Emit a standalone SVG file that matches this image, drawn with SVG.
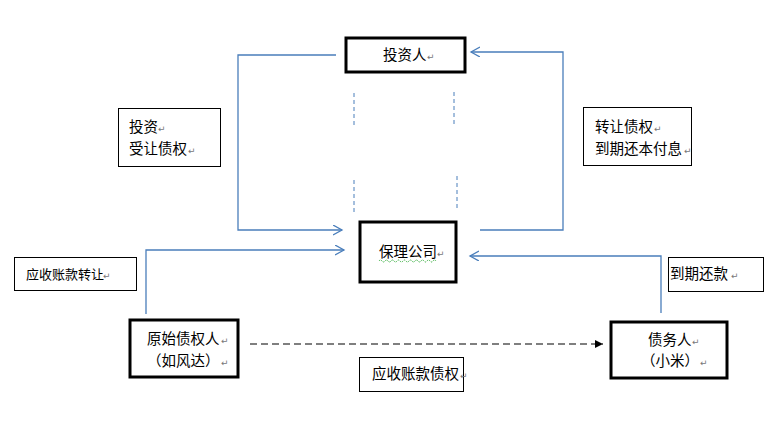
<svg xmlns="http://www.w3.org/2000/svg" width="776" height="430" viewBox="0 0 776 430">
<style>
.node{fill:#fff;stroke:#000;stroke-width:3}
.lbl{fill:#fff;stroke:#000;stroke-width:1}
.t{font-family:"Noto Sans CJK SC","Liberation Sans",sans-serif;font-size:14.5px;fill:#000}
.ts{font-family:"Noto Sans CJK SC","Liberation Sans",sans-serif;font-size:13px;fill:#000}
.pm{font-family:"DejaVu Sans",sans-serif;font-size:9px;fill:#777}
.conn{fill:none;stroke:#4a7ebb;stroke-width:1.3}
.dash{fill:none;stroke:#4a7ebb;stroke-width:1;stroke-dasharray:4,3}
.blk{fill:none;stroke:#000;stroke-width:1.2;stroke-dasharray:7,4}
</style>
<defs>
<marker id="open" markerUnits="userSpaceOnUse" markerWidth="12" markerHeight="12" refX="9" refY="5" orient="auto">
<path d="M0,0 L9,5 L0,10" fill="none" stroke="#4a7ebb" stroke-width="1.3"/>
</marker>
<marker id="solid" markerUnits="userSpaceOnUse" markerWidth="10" markerHeight="10" refX="8" refY="4" orient="auto">
<path d="M0,0 L8,4 L0,8 Z" fill="#000"/>
</marker>
</defs>
<rect width="776" height="430" fill="#fff"/>

<g id="connectors">
<polyline class="conn" points="336,55 238,55 238,230 342,230" marker-end="url(#open)"/>
<polyline class="conn" points="480,230 563,230 563,52 471,52" marker-end="url(#open)"/>
<polyline class="conn" points="146,314 146,250 344,250" marker-end="url(#open)"/>
<polyline class="conn" points="661,313 661,256 470,256" marker-end="url(#open)"/>
<line class="blk" x1="250" y1="344" x2="603" y2="344" marker-end="url(#solid)"/>
<line class="dash" x1="354" y1="93" x2="354" y2="127"/>
<line class="dash" x1="354" y1="180" x2="354" y2="213"/>
<line class="dash" x1="454" y1="92" x2="454" y2="125"/>
<line class="dash" x1="457" y1="176" x2="457" y2="210"/>
</g>

<g id="investor">
<rect class="node" x="346" y="38" width="119" height="34"/>
<text class="t" x="383" y="60">投资人</text><text class="pm" x="427" y="60">↵</text>
</g>

<g id="factoring">
<rect class="node" x="360" y="222" width="96" height="60"/>
<text class="t" x="379" y="257">保理公司</text><text class="pm" x="437" y="257">↵</text>
<path d="M379,261 q1.5,-2 3,0 t3,0 t3,0 t3,0 t3,0 t3,0 t3,0 t3,0 t3,0 t3,0 t3,0 t3,0 t3,0 t3,0 t3,0 t3,0 t3,0 t3,0 t3,0" fill="none" stroke="#3cb043" stroke-width="1" stroke-dasharray="1.5,1"/>
</g>

<g id="creditor">
<rect class="node" x="130" y="320" width="108" height="57"/>
<text class="t" x="147" y="344">原始债权人</text><text class="pm" x="221" y="344">↵</text>
<text class="t" x="147" y="366">（如风达）</text><text class="pm" x="221" y="366">↵</text>
</g>

<g id="debtor">
<rect class="node" x="611" y="322" width="116" height="56"/>
<text class="t" x="648" y="345">债务人</text><text class="pm" x="692" y="345">↵</text>
<text class="t" x="641" y="366">（小米）</text><text class="pm" x="700" y="366">↵</text>
</g>

<g id="label-invest">
<rect class="lbl" x="118.5" y="108.5" width="102" height="58"/>
<text class="t" x="129" y="132">投资</text><text class="pm" x="158" y="132">↵</text>
<text class="t" x="129" y="154">受让债权</text><text class="pm" x="188" y="154">↵</text>
</g>

<g id="label-transfer">
<rect class="lbl" x="583.5" y="107.5" width="108" height="58"/>
<text class="t" x="595" y="132">转让债权</text><text class="pm" x="654" y="132">↵</text>
<text class="t" x="595" y="154">到期还本付息</text><text class="pm" x="684" y="154">↵</text>
</g>

<g id="label-ar-transfer">
<rect class="lbl" x="14.5" y="257.5" width="122" height="33"/>
<text class="ts" x="26" y="279">应收账款转让</text><text class="pm" x="103" y="279">↵</text>
</g>

<g id="label-ar-claim">
<rect class="lbl" x="359.5" y="357.5" width="104" height="34"/>
<text class="t" x="372" y="379">应收账款债权</text><text class="pm" x="460" y="379">↵</text>
</g>

<g id="label-repay">
<rect class="lbl" x="668.5" y="257.5" width="95" height="34"/>
<text class="t" x="670" y="279">到期还款</text><text class="pm" x="731" y="279">↵</text>
</g>
</svg>
